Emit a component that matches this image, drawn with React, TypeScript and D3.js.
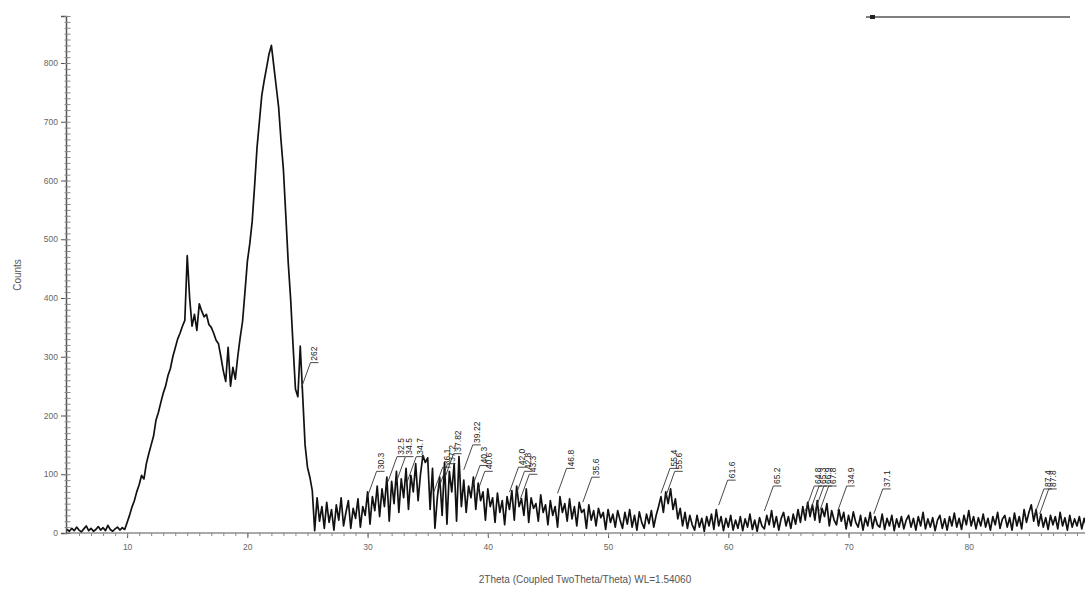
import React, { useEffect, useRef } from 'react'
import * as d3 from 'd3'

// scan settings (2theta, degrees)
const angleStart = 5
const angleStep = 0.2

// counts, one row = 2 degrees
const counts = [
  6, 3, 8, 4, 10, 5, 2, 7, 12, 4,           // 5
  8, 3, 6, 11, 5, 9, 4, 13, 6, 3,           // 7
  7, 10, 5, 9, 6, 18, 30, 44, 55, 70,       // 9
  82, 98, 92, 118, 135, 150, 165, 192, 205, 222, // 11
  238, 250, 268, 280, 300, 315, 330, 340, 352, 362, // 13
  472, 400, 352, 372, 345, 390, 378, 368, 372, 355, // 15
  350, 340, 328, 322, 300, 276, 258, 316, 250, 282, // 17
  262, 300, 332, 360, 410, 462, 492, 530, 590, 655, // 19
  700, 745, 770, 792, 815, 830, 795, 760, 725, 668, // 21
  618, 540, 460, 398, 320, 245, 232, 318, 235, 150, // 23
  112, 95, 72, 4, 60, 20, 45, 8, 52, 18,    // 25
  40, 5, 48, 22, 60, 12, 35, 55, 8, 42,     // 27
  25, 58, 10, 45, 30, 70, 15, 62, 38, 80,   // 29
  28, 75, 45, 95, 20, 88, 50, 105, 35, 92,  // 31
  60, 110, 40, 98, 70, 118, 55, 100, 132, 120, // 33
  128, 40, 110, 8, 60, 95, 30, 120, 15, 105, // 35
  70, 118, 20, 130, 45, 90, 35, 80, 60, 95, // 37
  40, 85, 55, 70, 22, 75, 45, 60, 18, 68,   // 39
  35, 55, 14, 62, 40, 72, 22, 80, 45, 58,   // 41
  30, 75, 18, 60, 42, 50, 20, 65, 35, 48,   // 43
  14, 55, 30, 45, 10, 62, 35, 50, 20, 58,   // 45
  24, 45, 12, 52, 35, 40, 8, 48, 22, 38,    // 47
  12, 42, 26, 35, 6, 40, 18, 32, 10, 38,    // 49
  22, 8, 35, 15, 40, 10, 30, 5, 36, 18,     // 51
  8, 32, 16, 38, 10, 30, 45, 62, 35, 70,    // 53
  50, 75, 40, 58, 24, 42, 12, 35, 8, 30,    // 55
  14, 5, 30, 10, 25, 3, 28, 12, 32, 6,      // 57
  40, 12, 28, 4, 25, 10, 30, 5, 22, 8,      // 59
  28, 4, 24, 10, 32, 6, 22, 3, 26, 12,      // 61
  7, 30, 14, 38, 10, 28, 5, 25, 35, 12,     // 63
  28, 8, 32, 15, 40, 18, 45, 22, 52, 28,    // 65
  48, 22, 55, 18, 42, 28, 50, 12, 38, 22,   // 67
  14, 40, 20, 35, 7, 30, 12, 36, 18, 10,    // 69
  30, 5, 26, 12, 35, 8, 28, 14, 10, 32,     // 71
  6, 25, 12, 30, 4, 24, 10, 28, 7, 22,      // 73
  30, 10, 25, 5, 28, 12, 35, 7, 24, 10,     // 75
  26, 4, 22, 30, 8, 24, 5, 28, 12, 34,      // 77
  10, 25, 6, 30, 14, 38, 12, 28, 7, 26,     // 79
  12, 32, 10, 25, 5, 28, 14, 35, 8, 24,     // 81
  30, 10, 26, 5, 34, 12, 28, 7, 40, 18,     // 83
  35, 48, 20, 40, 12, 32, 10, 26, 6, 30,    // 85
  14, 28, 7, 35, 12, 26, 5, 30, 10, 24,     // 87
  12, 28, 7, 25, 10, 30                     // 89
]

// peak markers: position, text, height of the label foot (counts)
const peakPos = [24.5, 30.0, 31.7, 32.4, 33.3, 35.5, 35.9, 36.4, 38.0, 38.6, 39.0,
  41.8, 42.3, 42.7, 45.8, 47.9, 54.4, 54.8, 59.2, 63.0, 66.4, 66.8, 67.2, 67.6,
  69.1, 72.1, 85.5, 85.9]
const peakText = ['262', '30.3', '32.5', '34.5', '34.7', '36.1', '37.2', '37.82', '39.22', '40.3', '40.6',
  '42.0', '42.8', '43.3', '46.8', '35.6', '55.4', '55.6', '61.6', '65.2', '64.8', '65.3', '66.9', '67.8',
  '34.9', '37.1', '87.4', '87.8']
const peakLevel = [290, 105, 130, 130, 130, 112, 118, 135, 150, 115, 105,
  112, 105, 100, 110, 95, 110, 105, 90, 80, 80, 80, 80, 80,
  80, 75, 75, 75]

const yMajor = [0, 100, 200, 300, 400, 500, 600, 700, 800]
const xMajor = [10, 20, 30, 40, 50, 60, 70, 80]

function App () {
  const svgRef = useRef()

  useEffect(() => {
    const w = 1085
    const h = 589
    const svg = d3.select(svgRef.current)
    svg.selectAll('*').remove()

    const x = d3.scaleLinear().domain([5, 90]).range([67, 1089])
    const y = d3.scaleLinear().domain([0, 880]).range([533, 16])
    const font = 'Liberation Sans, Arial, sans-serif'

    svg.append('clipPath').attr('id', 'plotClip')
      .append('rect').attr('x', 66).attr('y', 0).attr('width', w - 66).attr('height', 534)

    // axes
    const yAxis = d3.axisLeft(y).tickValues(yMajor).tickSize(5).tickFormat(d3.format('d'))
    const gy = svg.append('g').attr('transform', 'translate(66,0)').call(yAxis)
    gy.select('.domain').attr('stroke', '#555').attr('stroke-width', 1.5)
    gy.selectAll('.tick line').attr('stroke', '#555')
    gy.selectAll('text').attr('fill', '#666').style('font-family', font).style('font-size', '8.5px')

    const yMinor = d3.axisLeft(y).tickValues(d3.range(0, 881, 10)).tickSize(3).tickFormat('')
    const gym = svg.append('g').attr('transform', 'translate(67.5,0)').call(yMinor)
    gym.select('.domain').remove()
    gym.selectAll('.tick line').attr('stroke', '#888').attr('x2', 3).attr('x1', -3)

    const xAxis = d3.axisBottom(x).tickValues(xMajor).tickSize(5).tickPadding(6).tickFormat(d3.format('d'))
    const gx = svg.append('g').attr('transform', 'translate(0,533)').call(xAxis)
    gx.select('.domain').attr('stroke', '#555').attr('d', `M66,0H${w}`)
    gx.selectAll('.tick line').attr('stroke', '#555')
    gx.selectAll('text').attr('fill', '#666').style('font-family', font).style('font-size', '8.5px')

    const xMinor = d3.axisBottom(x).tickValues(d3.range(6, 90, 1)).tickSize(3).tickFormat('')
    const gxm = svg.append('g').attr('transform', 'translate(0,533)').call(xMinor)
    gxm.select('.domain').remove()
    gxm.selectAll('.tick line').attr('stroke', '#888')

    // pattern
    const line = d3.line()
      .x((d, i) => x(angleStart + i * angleStep))
      .y((d) => y(d))
    svg.append('path')
      .datum(counts)
      .attr('clip-path', 'url(#plotClip)')
      .attr('d', line)
      .attr('fill', 'none')
      .attr('stroke', '#111')
      .attr('stroke-width', 1.7)
      .attr('stroke-linejoin', 'round')

    // peak labels
    const labels = svg.append('g')
    peakPos.forEach((p, i) => {
      const px = x(p)
      const top = y(peakLevel[i])
      labels.append('path')
        .attr('d', `M${px},${top + 25}L${px + 9},${top}H${px + 17}`)
        .attr('fill', 'none')
        .attr('stroke', '#333')
        .attr('stroke-width', 0.9)
      labels.append('text')
        .attr('transform', `translate(${px + 16},${top - 2}) rotate(-90)`)
        .attr('fill', '#222')
        .style('font-family', font)
        .style('font-size', '8.5px')
        .text(peakText[i])
    })

    // legend stub, top right
    svg.append('line').attr('x1', 866).attr('x2', 1070).attr('y1', 17).attr('y2', 17)
      .attr('stroke', '#555').attr('stroke-width', 1.4)
    svg.append('rect').attr('x', 870).attr('y', 15).attr('width', 5).attr('height', 4).attr('fill', '#222')

    // titles
    svg.append('text')
      .attr('transform', 'translate(21,275) rotate(-90)')
      .attr('text-anchor', 'middle')
      .attr('fill', '#555')
      .style('font-family', font)
      .style('font-size', '10px')
      .text('Counts')
    svg.append('text')
      .attr('x', 585).attr('y', 583)
      .attr('text-anchor', 'middle')
      .attr('fill', '#555')
      .style('font-family', font)
      .style('font-size', '10px')
      .text('2Theta (Coupled TwoTheta/Theta) WL=1.54060')
  }, [])

  return (
    <svg ref={svgRef} width={1085} height={589}
      style={{ position: 'absolute', left: 0, top: 0, background: '#fff' }} />
  )
}

export default App
